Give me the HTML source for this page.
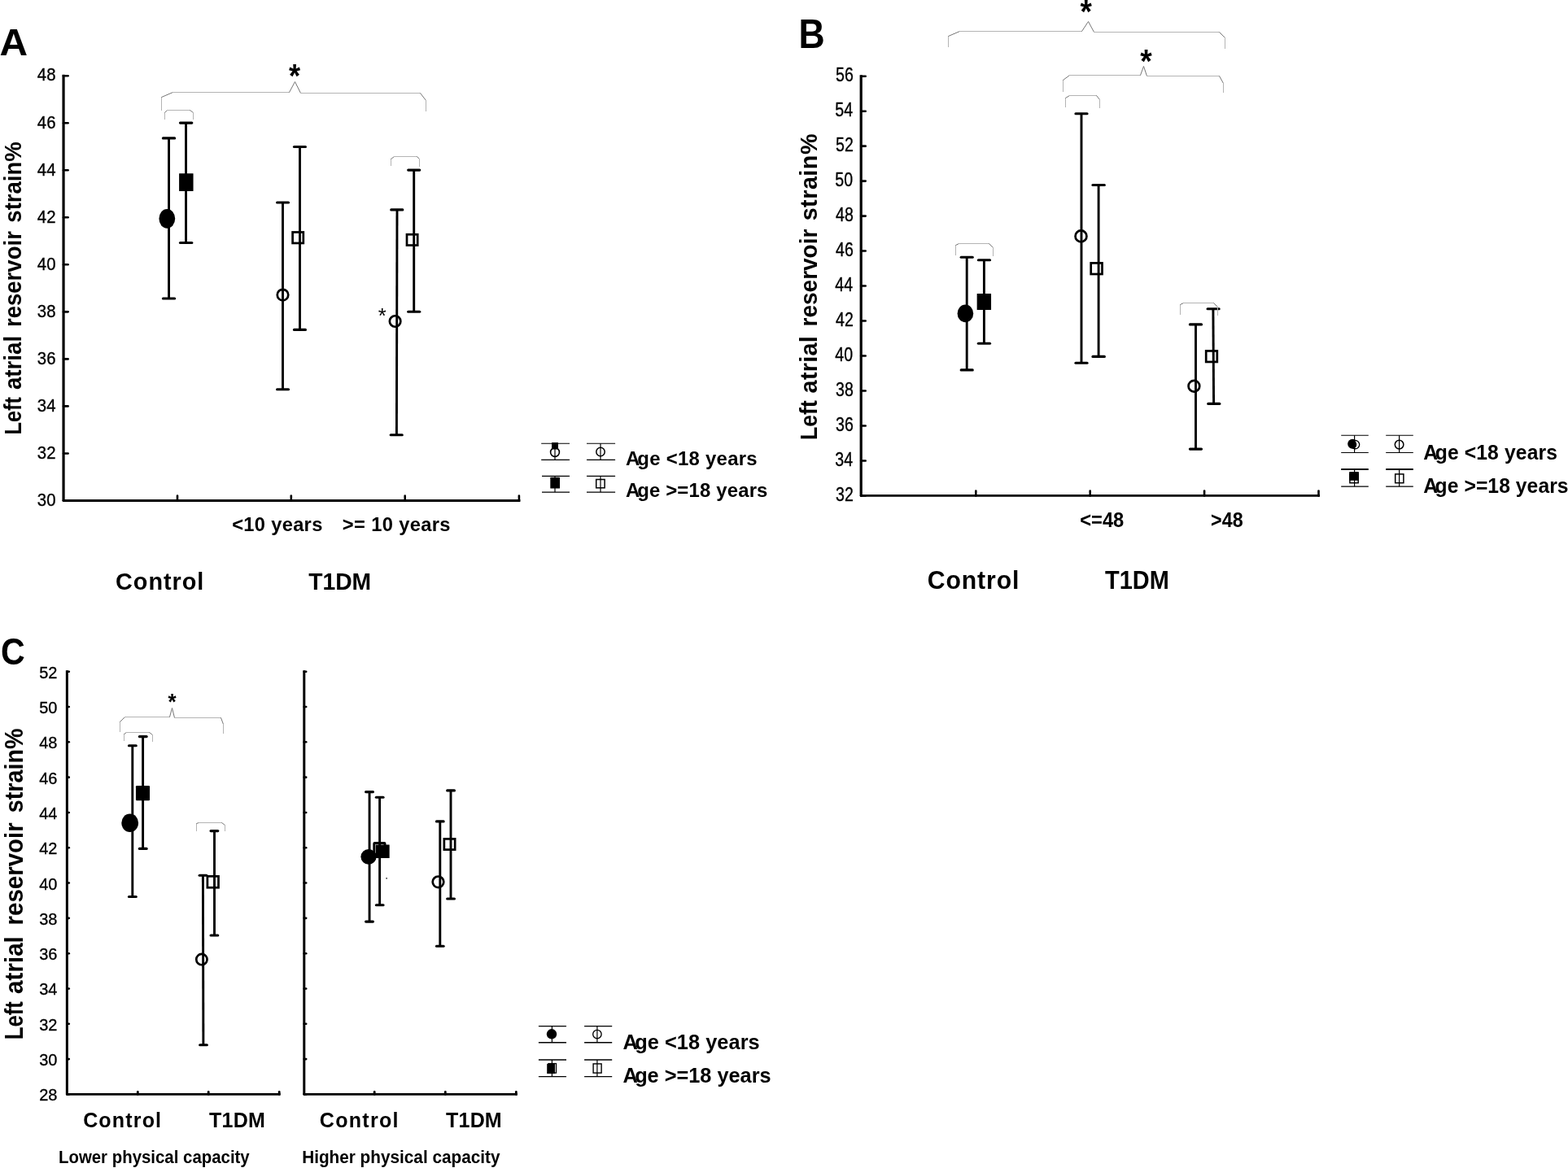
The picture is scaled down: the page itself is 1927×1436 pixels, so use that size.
<!DOCTYPE html>
<html lang="en">
<head>
<meta charset="utf-8">
<title>Left atrial reservoir strain figure</title>
<style>
html,body{margin:0;padding:0;background:#fff;}
body{width:1927px;height:1436px;overflow:hidden;}
svg{display:block;}
svg text{font-family:'Liberation Sans', Arial, sans-serif;fill:#000;}
</style>
</head>
<body>
<svg width="1927" height="1436" viewBox="0 0 1927 1436">
<rect width="1927" height="1436" fill="#fff"/>
<!-- Panel A -->
<line x1="78.05" y1="91.7" x2="78.05" y2="615.5" stroke="#000" stroke-width="3.2" stroke-linecap="butt"/>
<circle cx="78.05" cy="615.5" r="1.55" fill="#000"/>
<line x1="78.05" y1="615.5" x2="639.4" y2="615.5" stroke="#000" stroke-width="2.9" stroke-linecap="butt"/>
<line x1="78.05" y1="93.2" x2="83.6" y2="93.2" stroke="#000" stroke-width="2.6" stroke-linecap="round"/>
<line x1="78.05" y1="151.23" x2="83.6" y2="151.23" stroke="#000" stroke-width="2.6" stroke-linecap="round"/>
<line x1="78.05" y1="209.26" x2="83.6" y2="209.26" stroke="#000" stroke-width="2.6" stroke-linecap="round"/>
<line x1="78.05" y1="267.29" x2="83.6" y2="267.29" stroke="#000" stroke-width="2.6" stroke-linecap="round"/>
<line x1="78.05" y1="325.32" x2="83.6" y2="325.32" stroke="#000" stroke-width="2.6" stroke-linecap="round"/>
<line x1="78.05" y1="383.35" x2="83.6" y2="383.35" stroke="#000" stroke-width="2.6" stroke-linecap="round"/>
<line x1="78.05" y1="441.38" x2="83.6" y2="441.38" stroke="#000" stroke-width="2.6" stroke-linecap="round"/>
<line x1="78.05" y1="499.41" x2="83.6" y2="499.41" stroke="#000" stroke-width="2.6" stroke-linecap="round"/>
<line x1="78.05" y1="557.44" x2="83.6" y2="557.44" stroke="#000" stroke-width="2.6" stroke-linecap="round"/>
<line x1="78.05" y1="615.47" x2="83.6" y2="615.47" stroke="#000" stroke-width="2.6" stroke-linecap="round"/>
<line x1="218" y1="609.6" x2="218" y2="615.5" stroke="#000" stroke-width="2.6" stroke-linecap="round"/>
<line x1="357.8" y1="609.6" x2="357.8" y2="615.5" stroke="#000" stroke-width="2.6" stroke-linecap="round"/>
<line x1="497.7" y1="609.6" x2="497.7" y2="615.5" stroke="#000" stroke-width="2.6" stroke-linecap="round"/>
<line x1="637.9" y1="609.6" x2="637.9" y2="615.5" stroke="#000" stroke-width="2.6" stroke-linecap="round"/>
<line x1="207.55" y1="169.9" x2="207.55" y2="367" stroke="#000" stroke-width="2.9" stroke-linecap="butt"/>
<line x1="200.35" y1="169.9" x2="214.65" y2="169.9" stroke="#000" stroke-width="3.1" stroke-linecap="round"/>
<line x1="200.35" y1="367" x2="214.65" y2="367" stroke="#000" stroke-width="3.1" stroke-linecap="round"/>
<line x1="228.55" y1="151.1" x2="228.55" y2="298.5" stroke="#000" stroke-width="2.9" stroke-linecap="butt"/>
<line x1="221.45" y1="151.1" x2="235.85" y2="151.1" stroke="#000" stroke-width="3.1" stroke-linecap="round"/>
<line x1="221.45" y1="298.5" x2="235.85" y2="298.5" stroke="#000" stroke-width="3.1" stroke-linecap="round"/>
<line x1="347.5" y1="249" x2="347.5" y2="478.8" stroke="#000" stroke-width="2.9" stroke-linecap="butt"/>
<line x1="340.55" y1="249" x2="354.55" y2="249" stroke="#000" stroke-width="3.1" stroke-linecap="round"/>
<line x1="340.55" y1="478.8" x2="354.55" y2="478.8" stroke="#000" stroke-width="3.1" stroke-linecap="round"/>
<line x1="368.5" y1="180.5" x2="368.5" y2="405.4" stroke="#000" stroke-width="2.9" stroke-linecap="butt"/>
<line x1="361.45" y1="180.5" x2="375.45" y2="180.5" stroke="#000" stroke-width="3.1" stroke-linecap="round"/>
<line x1="361.45" y1="405.4" x2="375.45" y2="405.4" stroke="#000" stroke-width="3.1" stroke-linecap="round"/>
<line x1="488" y1="257.9" x2="487.4" y2="534.8" stroke="#000" stroke-width="2.9" stroke-linecap="butt"/>
<line x1="480.75" y1="257.9" x2="494.85" y2="257.9" stroke="#000" stroke-width="3.1" stroke-linecap="round"/>
<line x1="480.15" y1="534.8" x2="494.25" y2="534.8" stroke="#000" stroke-width="3.1" stroke-linecap="round"/>
<line x1="508.7" y1="209.1" x2="508.7" y2="383.3" stroke="#000" stroke-width="2.9" stroke-linecap="butt"/>
<line x1="501.65" y1="209.1" x2="515.75" y2="209.1" stroke="#000" stroke-width="3.1" stroke-linecap="round"/>
<line x1="501.65" y1="383.3" x2="515.75" y2="383.3" stroke="#000" stroke-width="3.1" stroke-linecap="round"/>
<ellipse cx="205.3" cy="268.85" rx="9.9" ry="11.8" fill="#000"/>
<rect x="220.1" y="213.2" width="17.45" height="21.7" rx="0.3" fill="#000"/>
<circle cx="347.5" cy="362.6" r="6.75" fill="none" stroke="#000" stroke-width="2.7"/>
<rect x="359.6" y="285.45" width="13.2" height="13.5" fill="none" stroke="#000" stroke-width="2.7"/>
<circle cx="485.6" cy="395" r="6.75" fill="none" stroke="#000" stroke-width="2.7"/>
<rect x="500" y="288.25" width="13.2" height="13.3" fill="none" stroke="#000" stroke-width="2.7"/>
<line x1="198.5" y1="135.5" x2="198.5" y2="119.5" stroke="#b4b4b4" stroke-width="1" stroke-linecap="square"/>
<line x1="198.5" y1="119.5" x2="212.5" y2="113.5" stroke="#757575" stroke-width="1"/>
<line x1="212.5" y1="113.5" x2="355.5" y2="113.5" stroke="#b4b4b4" stroke-width="1" stroke-linecap="square"/>
<line x1="355.5" y1="113.5" x2="362.5" y2="100.5" stroke="#757575" stroke-width="1"/>
<line x1="362.5" y1="100.5" x2="369.5" y2="114.5" stroke="#757575" stroke-width="1"/>
<line x1="369.5" y1="114.5" x2="516.5" y2="114.5" stroke="#b4b4b4" stroke-width="1" stroke-linecap="square"/>
<line x1="516.5" y1="114.5" x2="523.5" y2="123.5" stroke="#757575" stroke-width="1"/>
<line x1="523.5" y1="123.5" x2="523.5" y2="136.5" stroke="#b4b4b4" stroke-width="1" stroke-linecap="square"/>
<line x1="202.5" y1="146.5" x2="202.5" y2="138.5" stroke="#b4b4b4" stroke-width="1" stroke-linecap="square"/>
<line x1="202.5" y1="138.5" x2="205.5" y2="135.5" stroke="#757575" stroke-width="1"/>
<line x1="205.5" y1="135.5" x2="233.5" y2="135.5" stroke="#b4b4b4" stroke-width="1" stroke-linecap="square"/>
<line x1="233.5" y1="135.5" x2="237.5" y2="138.5" stroke="#757575" stroke-width="1"/>
<line x1="237.5" y1="138.5" x2="237.5" y2="146.5" stroke="#b4b4b4" stroke-width="1" stroke-linecap="square"/>
<line x1="480.5" y1="203.5" x2="480.5" y2="195.5" stroke="#b4b4b4" stroke-width="1" stroke-linecap="square"/>
<line x1="480.5" y1="195.5" x2="484.5" y2="192.5" stroke="#757575" stroke-width="1"/>
<line x1="484.5" y1="192.5" x2="512.5" y2="192.5" stroke="#b4b4b4" stroke-width="1" stroke-linecap="square"/>
<line x1="512.5" y1="192.5" x2="515.5" y2="195.5" stroke="#757575" stroke-width="1"/>
<line x1="515.5" y1="195.5" x2="515.5" y2="204.5" stroke="#b4b4b4" stroke-width="1" stroke-linecap="square"/>
<!-- Legend A -->
<line x1="665.2" y1="545.3" x2="700" y2="545.3" stroke="#000" stroke-width="1.1" stroke-linecap="butt"/>
<line x1="665.2" y1="565.4" x2="700" y2="565.4" stroke="#000" stroke-width="1.1" stroke-linecap="butt"/>
<line x1="721" y1="545.3" x2="756.1" y2="545.3" stroke="#000" stroke-width="1.1" stroke-linecap="butt"/>
<line x1="721" y1="565.4" x2="756.1" y2="565.4" stroke="#000" stroke-width="1.1" stroke-linecap="butt"/>
<line x1="682" y1="545.3" x2="682" y2="565.4" stroke="#000" stroke-width="1.2" stroke-linecap="butt"/>
<line x1="738" y1="545.3" x2="738" y2="565.4" stroke="#000" stroke-width="1.2" stroke-linecap="butt"/>
<rect x="678" y="544" width="8" height="8.5" rx="0.5" fill="#000"/>
<circle cx="682" cy="556" r="5.4" fill="none" stroke="#000" stroke-width="1.6"/>
<circle cx="738" cy="555.5" r="5.2" fill="none" stroke="#000" stroke-width="1.5"/>
<line x1="666" y1="585.4" x2="700" y2="585.4" stroke="#000" stroke-width="1.1" stroke-linecap="butt"/>
<line x1="666" y1="605.1" x2="700" y2="605.1" stroke="#000" stroke-width="1.1" stroke-linecap="butt"/>
<line x1="721" y1="585.4" x2="756.1" y2="585.4" stroke="#000" stroke-width="1.1" stroke-linecap="butt"/>
<line x1="721" y1="605.1" x2="756.1" y2="605.1" stroke="#000" stroke-width="1.1" stroke-linecap="butt"/>
<line x1="682" y1="585.4" x2="682" y2="605.1" stroke="#000" stroke-width="1.2" stroke-linecap="butt"/>
<line x1="738" y1="585.4" x2="738" y2="605.1" stroke="#000" stroke-width="1.2" stroke-linecap="butt"/>
<rect x="676.3" y="586.8" width="11.7" height="13.7" rx="0.5" fill="#000"/>
<rect x="732.7" y="589.5" width="10.4" height="10.3" fill="none" stroke="#000" stroke-width="1.5"/>
<!-- Panel B -->
<line x1="1058.2" y1="92.2" x2="1058.2" y2="609.4" stroke="#000" stroke-width="3.2" stroke-linecap="butt"/>
<circle cx="1058.2" cy="609.4" r="1.5" fill="#000"/>
<line x1="1058.2" y1="609.4" x2="1622" y2="609.4" stroke="#000" stroke-width="2.8" stroke-linecap="butt"/>
<line x1="1058.2" y1="93.7" x2="1063.7" y2="93.7" stroke="#000" stroke-width="2.6" stroke-linecap="round"/>
<line x1="1058.2" y1="136.68" x2="1063.7" y2="136.68" stroke="#000" stroke-width="2.6" stroke-linecap="round"/>
<line x1="1058.2" y1="179.65" x2="1063.7" y2="179.65" stroke="#000" stroke-width="2.6" stroke-linecap="round"/>
<line x1="1058.2" y1="222.62" x2="1063.7" y2="222.62" stroke="#000" stroke-width="2.6" stroke-linecap="round"/>
<line x1="1058.2" y1="265.6" x2="1063.7" y2="265.6" stroke="#000" stroke-width="2.6" stroke-linecap="round"/>
<line x1="1058.2" y1="308.57" x2="1063.7" y2="308.57" stroke="#000" stroke-width="2.6" stroke-linecap="round"/>
<line x1="1058.2" y1="351.55" x2="1063.7" y2="351.55" stroke="#000" stroke-width="2.6" stroke-linecap="round"/>
<line x1="1058.2" y1="394.52" x2="1063.7" y2="394.52" stroke="#000" stroke-width="2.6" stroke-linecap="round"/>
<line x1="1058.2" y1="437.5" x2="1063.7" y2="437.5" stroke="#000" stroke-width="2.6" stroke-linecap="round"/>
<line x1="1058.2" y1="480.48" x2="1063.7" y2="480.48" stroke="#000" stroke-width="2.6" stroke-linecap="round"/>
<line x1="1058.2" y1="523.45" x2="1063.7" y2="523.45" stroke="#000" stroke-width="2.6" stroke-linecap="round"/>
<line x1="1058.2" y1="566.43" x2="1063.7" y2="566.43" stroke="#000" stroke-width="2.6" stroke-linecap="round"/>
<line x1="1058.2" y1="609.4" x2="1063.7" y2="609.4" stroke="#000" stroke-width="2.6" stroke-linecap="round"/>
<line x1="1199.3" y1="603.5" x2="1199.3" y2="609.4" stroke="#000" stroke-width="2.6" stroke-linecap="round"/>
<line x1="1339.7" y1="603.5" x2="1339.7" y2="609.4" stroke="#000" stroke-width="2.6" stroke-linecap="round"/>
<line x1="1480.1" y1="603.5" x2="1480.1" y2="609.4" stroke="#000" stroke-width="2.6" stroke-linecap="round"/>
<line x1="1620.5" y1="603.5" x2="1620.5" y2="609.4" stroke="#000" stroke-width="2.6" stroke-linecap="round"/>
<line x1="1188.2" y1="316.2" x2="1188.2" y2="454.9" stroke="#000" stroke-width="2.9" stroke-linecap="butt"/>
<line x1="1181.15" y1="316.2" x2="1195.25" y2="316.2" stroke="#000" stroke-width="3.1" stroke-linecap="round"/>
<line x1="1181.15" y1="454.9" x2="1195.25" y2="454.9" stroke="#000" stroke-width="3.1" stroke-linecap="round"/>
<line x1="1209.4" y1="319.8" x2="1209.4" y2="422.2" stroke="#000" stroke-width="2.9" stroke-linecap="butt"/>
<line x1="1202.35" y1="319.8" x2="1216.55" y2="319.8" stroke="#000" stroke-width="3.1" stroke-linecap="round"/>
<line x1="1202.35" y1="422.2" x2="1216.55" y2="422.2" stroke="#000" stroke-width="3.1" stroke-linecap="round"/>
<line x1="1329" y1="139.7" x2="1329" y2="446.2" stroke="#000" stroke-width="2.9" stroke-linecap="butt"/>
<line x1="1321.95" y1="139.7" x2="1336.05" y2="139.7" stroke="#000" stroke-width="3.1" stroke-linecap="round"/>
<line x1="1321.95" y1="446.2" x2="1336.05" y2="446.2" stroke="#000" stroke-width="3.1" stroke-linecap="round"/>
<line x1="1350.1" y1="227.5" x2="1350.1" y2="438.4" stroke="#000" stroke-width="2.9" stroke-linecap="butt"/>
<line x1="1342.95" y1="227.5" x2="1357.35" y2="227.5" stroke="#000" stroke-width="3.1" stroke-linecap="round"/>
<line x1="1342.95" y1="438.4" x2="1357.35" y2="438.4" stroke="#000" stroke-width="3.1" stroke-linecap="round"/>
<line x1="1469.5" y1="398.9" x2="1469.5" y2="552.1" stroke="#000" stroke-width="2.9" stroke-linecap="butt"/>
<line x1="1462.35" y1="398.9" x2="1476.55" y2="398.9" stroke="#000" stroke-width="3.1" stroke-linecap="round"/>
<line x1="1462.35" y1="552.1" x2="1476.55" y2="552.1" stroke="#000" stroke-width="3.1" stroke-linecap="round"/>
<line x1="1490.9" y1="379.7" x2="1491.6" y2="496.4" stroke="#000" stroke-width="2.9" stroke-linecap="butt"/>
<line x1="1484.05" y1="379.7" x2="1498.15" y2="379.7" stroke="#000" stroke-width="3.1" stroke-linecap="round"/>
<line x1="1484.75" y1="496.4" x2="1498.85" y2="496.4" stroke="#000" stroke-width="3.1" stroke-linecap="round"/>
<ellipse cx="1186.4" cy="385.4" rx="9.8" ry="10.8" fill="#000"/>
<rect x="1200.65" y="361.05" width="17.4" height="19.9" rx="0.3" fill="#000"/>
<circle cx="1328.5" cy="290.4" r="6.95" fill="none" stroke="#000" stroke-width="2.7"/>
<rect x="1340.7" y="323.4" width="13.8" height="13.6" fill="none" stroke="#000" stroke-width="2.7"/>
<circle cx="1467.4" cy="474.7" r="6.85" fill="none" stroke="#000" stroke-width="2.7"/>
<rect x="1482.2" y="431.45" width="13.6" height="13.5" fill="none" stroke="#000" stroke-width="2.7"/>
<line x1="1165.5" y1="57.5" x2="1165.5" y2="44.5" stroke="#b4b4b4" stroke-width="1" stroke-linecap="square"/>
<line x1="1165.5" y1="44.5" x2="1179.5" y2="38.5" stroke="#757575" stroke-width="1"/>
<line x1="1179.5" y1="38.5" x2="1329.5" y2="38.5" stroke="#b4b4b4" stroke-width="1" stroke-linecap="square"/>
<line x1="1329.5" y1="38.5" x2="1337.5" y2="26.5" stroke="#757575" stroke-width="1"/>
<line x1="1337.5" y1="26.5" x2="1344.5" y2="39.5" stroke="#757575" stroke-width="1"/>
<line x1="1344.5" y1="39.5" x2="1498.5" y2="39.5" stroke="#b4b4b4" stroke-width="1" stroke-linecap="square"/>
<line x1="1498.5" y1="39.5" x2="1505.5" y2="46.5" stroke="#757575" stroke-width="1"/>
<line x1="1505.5" y1="46.5" x2="1505.5" y2="59.5" stroke="#b4b4b4" stroke-width="1" stroke-linecap="square"/>
<line x1="1306.5" y1="112.5" x2="1306.5" y2="98.5" stroke="#b4b4b4" stroke-width="1" stroke-linecap="square"/>
<line x1="1306.5" y1="98.5" x2="1314.5" y2="92.5" stroke="#757575" stroke-width="1"/>
<line x1="1314.5" y1="92.5" x2="1401.5" y2="92.5" stroke="#b4b4b4" stroke-width="1" stroke-linecap="square"/>
<line x1="1401.5" y1="92.5" x2="1405.5" y2="81.5" stroke="#757575" stroke-width="1"/>
<line x1="1405.5" y1="81.5" x2="1409.5" y2="93.5" stroke="#757575" stroke-width="1"/>
<line x1="1409.5" y1="93.5" x2="1498.5" y2="93.5" stroke="#b4b4b4" stroke-width="1" stroke-linecap="square"/>
<line x1="1498.5" y1="93.5" x2="1503.5" y2="102.5" stroke="#757575" stroke-width="1"/>
<line x1="1503.5" y1="102.5" x2="1503.5" y2="113.5" stroke="#b4b4b4" stroke-width="1" stroke-linecap="square"/>
<line x1="1309.5" y1="131.5" x2="1309.5" y2="120.5" stroke="#b4b4b4" stroke-width="1" stroke-linecap="square"/>
<line x1="1309.5" y1="120.5" x2="1314.5" y2="117.5" stroke="#757575" stroke-width="1"/>
<line x1="1314.5" y1="117.5" x2="1347.5" y2="117.5" stroke="#b4b4b4" stroke-width="1" stroke-linecap="square"/>
<line x1="1347.5" y1="117.5" x2="1351.5" y2="122.5" stroke="#757575" stroke-width="1"/>
<line x1="1351.5" y1="122.5" x2="1351.5" y2="132.5" stroke="#b4b4b4" stroke-width="1" stroke-linecap="square"/>
<line x1="1174.5" y1="313.5" x2="1174.5" y2="301.5" stroke="#b4b4b4" stroke-width="1" stroke-linecap="square"/>
<line x1="1174.5" y1="301.5" x2="1178.5" y2="299.5" stroke="#757575" stroke-width="1"/>
<line x1="1178.5" y1="299.5" x2="1215.5" y2="299.5" stroke="#b4b4b4" stroke-width="1" stroke-linecap="square"/>
<line x1="1215.5" y1="299.5" x2="1220.5" y2="304.5" stroke="#757575" stroke-width="1"/>
<line x1="1220.5" y1="304.5" x2="1220.5" y2="314.5" stroke="#b4b4b4" stroke-width="1" stroke-linecap="square"/>
<line x1="1450.5" y1="386.5" x2="1450.5" y2="374.5" stroke="#b4b4b4" stroke-width="1" stroke-linecap="square"/>
<line x1="1450.5" y1="374.5" x2="1454.5" y2="372.5" stroke="#757575" stroke-width="1"/>
<line x1="1454.5" y1="372.5" x2="1491.5" y2="372.5" stroke="#b4b4b4" stroke-width="1" stroke-linecap="square"/>
<line x1="1491.5" y1="372.5" x2="1496.5" y2="377.5" stroke="#757575" stroke-width="1"/>
<line x1="1496.5" y1="377.5" x2="1496.5" y2="387.5" stroke="#b4b4b4" stroke-width="1" stroke-linecap="square"/>
<!-- Legend B -->
<line x1="1648.2" y1="535.2" x2="1681.8" y2="535.2" stroke="#000" stroke-width="1.1" stroke-linecap="butt"/>
<line x1="1648.2" y1="556.5" x2="1681.8" y2="556.5" stroke="#000" stroke-width="1.1" stroke-linecap="butt"/>
<line x1="1703.2" y1="535.2" x2="1736.8" y2="535.2" stroke="#000" stroke-width="1.1" stroke-linecap="butt"/>
<line x1="1703.2" y1="556.5" x2="1736.8" y2="556.5" stroke="#000" stroke-width="1.1" stroke-linecap="butt"/>
<line x1="1664.6" y1="535.2" x2="1664.6" y2="556.5" stroke="#000" stroke-width="1.2" stroke-linecap="butt"/>
<line x1="1719.6" y1="535.2" x2="1719.6" y2="556.5" stroke="#000" stroke-width="1.2" stroke-linecap="butt"/>
<circle cx="1662.2" cy="545.8" r="6" fill="#000"/>
<circle cx="1665.4" cy="546.6" r="5.2" fill="none" stroke="#000" stroke-width="1.5"/>
<path d="M1665.4,542.2 a4.4,4.4 0 0 1 0,8.8 a6,6 0 0 0 0,-8.8z" fill="#fff"/>
<circle cx="1719.6" cy="546.6" r="5.3" fill="none" stroke="#000" stroke-width="1.5"/>
<line x1="1648.2" y1="576.9" x2="1681.8" y2="576.9" stroke="#000" stroke-width="2.0" stroke-linecap="butt"/>
<line x1="1648.2" y1="598.1" x2="1681.8" y2="598.1" stroke="#000" stroke-width="1.1" stroke-linecap="butt"/>
<line x1="1703.2" y1="576.9" x2="1736.8" y2="576.9" stroke="#000" stroke-width="2.0" stroke-linecap="butt"/>
<line x1="1703.2" y1="598.1" x2="1736.8" y2="598.1" stroke="#000" stroke-width="1.1" stroke-linecap="butt"/>
<line x1="1664.6" y1="576.9" x2="1664.6" y2="598.1" stroke="#000" stroke-width="1.2" stroke-linecap="butt"/>
<line x1="1719.6" y1="576.9" x2="1719.6" y2="598.1" stroke="#000" stroke-width="1.2" stroke-linecap="butt"/>
<rect x="1658.2" y="580.1" width="11.7" height="10.6" rx="0.5" fill="#000"/>
<rect x="1658.9" y="582.5" width="10.3" height="11.2" fill="none" stroke="#000" stroke-width="1.5"/>
<rect x="1714.7" y="582.9" width="10.2" height="10.8" fill="none" stroke="#000" stroke-width="1.5"/>
<!-- Panel C -->
<line x1="82.35" y1="824.3" x2="82.35" y2="1345.4" stroke="#000" stroke-width="3.0" stroke-linecap="butt"/>
<circle cx="82.35" cy="1345.4" r="1.4" fill="#000"/>
<line x1="82.35" y1="1345.4" x2="344.6" y2="1345.4" stroke="#000" stroke-width="2.6" stroke-linecap="butt"/>
<line x1="373.8" y1="824.3" x2="373.8" y2="1345.4" stroke="#000" stroke-width="3.0" stroke-linecap="butt"/>
<circle cx="373.8" cy="1345.4" r="1.4" fill="#000"/>
<line x1="373.8" y1="1345.4" x2="635.8" y2="1345.4" stroke="#000" stroke-width="2.6" stroke-linecap="butt"/>
<line x1="82.35" y1="825.7" x2="84.8" y2="825.7" stroke="#000" stroke-width="2.6" stroke-linecap="round"/>
<line x1="373.8" y1="825.7" x2="376.2" y2="825.7" stroke="#000" stroke-width="2.6" stroke-linecap="round"/>
<line x1="82.35" y1="869.01" x2="84.8" y2="869.01" stroke="#000" stroke-width="2.6" stroke-linecap="round"/>
<line x1="373.8" y1="869.01" x2="376.2" y2="869.01" stroke="#000" stroke-width="2.6" stroke-linecap="round"/>
<line x1="82.35" y1="912.32" x2="84.8" y2="912.32" stroke="#000" stroke-width="2.6" stroke-linecap="round"/>
<line x1="373.8" y1="912.32" x2="376.2" y2="912.32" stroke="#000" stroke-width="2.6" stroke-linecap="round"/>
<line x1="82.35" y1="955.63" x2="84.8" y2="955.63" stroke="#000" stroke-width="2.6" stroke-linecap="round"/>
<line x1="373.8" y1="955.63" x2="376.2" y2="955.63" stroke="#000" stroke-width="2.6" stroke-linecap="round"/>
<line x1="82.35" y1="998.94" x2="84.8" y2="998.94" stroke="#000" stroke-width="2.6" stroke-linecap="round"/>
<line x1="373.8" y1="998.94" x2="376.2" y2="998.94" stroke="#000" stroke-width="2.6" stroke-linecap="round"/>
<line x1="82.35" y1="1042.25" x2="84.8" y2="1042.25" stroke="#000" stroke-width="2.6" stroke-linecap="round"/>
<line x1="373.8" y1="1042.25" x2="376.2" y2="1042.25" stroke="#000" stroke-width="2.6" stroke-linecap="round"/>
<line x1="82.35" y1="1085.56" x2="84.8" y2="1085.56" stroke="#000" stroke-width="2.6" stroke-linecap="round"/>
<line x1="373.8" y1="1085.56" x2="376.2" y2="1085.56" stroke="#000" stroke-width="2.6" stroke-linecap="round"/>
<line x1="82.35" y1="1128.87" x2="84.8" y2="1128.87" stroke="#000" stroke-width="2.6" stroke-linecap="round"/>
<line x1="373.8" y1="1128.87" x2="376.2" y2="1128.87" stroke="#000" stroke-width="2.6" stroke-linecap="round"/>
<line x1="82.35" y1="1172.18" x2="84.8" y2="1172.18" stroke="#000" stroke-width="2.6" stroke-linecap="round"/>
<line x1="373.8" y1="1172.18" x2="376.2" y2="1172.18" stroke="#000" stroke-width="2.6" stroke-linecap="round"/>
<line x1="82.35" y1="1215.49" x2="84.8" y2="1215.49" stroke="#000" stroke-width="2.6" stroke-linecap="round"/>
<line x1="373.8" y1="1215.49" x2="376.2" y2="1215.49" stroke="#000" stroke-width="2.6" stroke-linecap="round"/>
<line x1="82.35" y1="1258.8" x2="84.8" y2="1258.8" stroke="#000" stroke-width="2.6" stroke-linecap="round"/>
<line x1="373.8" y1="1258.8" x2="376.2" y2="1258.8" stroke="#000" stroke-width="2.6" stroke-linecap="round"/>
<line x1="82.35" y1="1302.11" x2="84.8" y2="1302.11" stroke="#000" stroke-width="2.6" stroke-linecap="round"/>
<line x1="373.8" y1="1302.11" x2="376.2" y2="1302.11" stroke="#000" stroke-width="2.6" stroke-linecap="round"/>
<line x1="82.35" y1="1345.42" x2="84.8" y2="1345.42" stroke="#000" stroke-width="2.6" stroke-linecap="round"/>
<line x1="373.8" y1="1345.42" x2="376.2" y2="1345.42" stroke="#000" stroke-width="2.6" stroke-linecap="round"/>
<line x1="169.3" y1="1342.4" x2="169.3" y2="1345.4" stroke="#000" stroke-width="2.8" stroke-linecap="round"/>
<line x1="256.2" y1="1342.4" x2="256.2" y2="1345.4" stroke="#000" stroke-width="2.8" stroke-linecap="round"/>
<line x1="343.2" y1="1342.4" x2="343.2" y2="1345.4" stroke="#000" stroke-width="2.8" stroke-linecap="round"/>
<line x1="460.2" y1="1342.4" x2="460.2" y2="1345.4" stroke="#000" stroke-width="2.8" stroke-linecap="round"/>
<line x1="547.3" y1="1342.4" x2="547.3" y2="1345.4" stroke="#000" stroke-width="2.8" stroke-linecap="round"/>
<line x1="634.3" y1="1342.4" x2="634.3" y2="1345.4" stroke="#000" stroke-width="2.8" stroke-linecap="round"/>
<line x1="162.8" y1="916.8" x2="162.8" y2="1102.5" stroke="#000" stroke-width="2.9" stroke-linecap="butt"/>
<line x1="158.45" y1="916.8" x2="167.25" y2="916.8" stroke="#000" stroke-width="3.1" stroke-linecap="round"/>
<line x1="158.45" y1="1102.5" x2="167.25" y2="1102.5" stroke="#000" stroke-width="3.1" stroke-linecap="round"/>
<line x1="175.6" y1="905.6" x2="175.6" y2="1043.4" stroke="#000" stroke-width="2.9" stroke-linecap="butt"/>
<line x1="171.35" y1="905.6" x2="180.15" y2="905.6" stroke="#000" stroke-width="3.1" stroke-linecap="round"/>
<line x1="171.35" y1="1043.4" x2="180.15" y2="1043.4" stroke="#000" stroke-width="3.1" stroke-linecap="round"/>
<line x1="249.4" y1="1076.3" x2="249.9" y2="1284.8" stroke="#000" stroke-width="2.9" stroke-linecap="butt"/>
<line x1="245.15" y1="1076.3" x2="253.85" y2="1076.3" stroke="#000" stroke-width="3.1" stroke-linecap="round"/>
<line x1="245.65" y1="1284.8" x2="254.35" y2="1284.8" stroke="#000" stroke-width="3.1" stroke-linecap="round"/>
<line x1="263.5" y1="1021.6" x2="263.5" y2="1150" stroke="#000" stroke-width="2.9" stroke-linecap="butt"/>
<line x1="259.05" y1="1021.6" x2="267.75" y2="1021.6" stroke="#000" stroke-width="3.1" stroke-linecap="round"/>
<line x1="259.05" y1="1150" x2="267.75" y2="1150" stroke="#000" stroke-width="3.1" stroke-linecap="round"/>
<line x1="454.05" y1="973.6" x2="454.05" y2="1133.1" stroke="#000" stroke-width="2.9" stroke-linecap="butt"/>
<line x1="449.55" y1="973.6" x2="458.45" y2="973.6" stroke="#000" stroke-width="3.1" stroke-linecap="round"/>
<line x1="449.55" y1="1133.1" x2="458.45" y2="1133.1" stroke="#000" stroke-width="3.1" stroke-linecap="round"/>
<line x1="466.6" y1="980.3" x2="466.6" y2="1112.7" stroke="#000" stroke-width="2.9" stroke-linecap="butt"/>
<line x1="462.35" y1="980.3" x2="471.05" y2="980.3" stroke="#000" stroke-width="3.1" stroke-linecap="round"/>
<line x1="462.35" y1="1112.7" x2="471.05" y2="1112.7" stroke="#000" stroke-width="3.1" stroke-linecap="round"/>
<line x1="540.8" y1="1009.9" x2="540.8" y2="1163.3" stroke="#000" stroke-width="2.9" stroke-linecap="butt"/>
<line x1="536.45" y1="1009.9" x2="545.15" y2="1009.9" stroke="#000" stroke-width="3.1" stroke-linecap="round"/>
<line x1="536.45" y1="1163.3" x2="545.15" y2="1163.3" stroke="#000" stroke-width="3.1" stroke-linecap="round"/>
<line x1="554" y1="971.9" x2="554" y2="1105" stroke="#000" stroke-width="2.9" stroke-linecap="butt"/>
<line x1="549.65" y1="971.9" x2="558.45" y2="971.9" stroke="#000" stroke-width="3.1" stroke-linecap="round"/>
<line x1="549.65" y1="1105" x2="558.45" y2="1105" stroke="#000" stroke-width="3.1" stroke-linecap="round"/>
<ellipse cx="159.7" cy="1011.7" rx="10.4" ry="11.3" fill="#000"/>
<rect x="166.95" y="965.95" width="17.1" height="18.3" rx="1.2" fill="#000"/>
<circle cx="247.9" cy="1179.6" r="6.65" fill="none" stroke="#000" stroke-width="2.7"/>
<rect x="254.9" y="1077.35" width="13.6" height="13.9" fill="none" stroke="#000" stroke-width="2.7"/>
<ellipse cx="453" cy="1053.35" rx="9.6" ry="9.45" fill="#000"/>
<rect x="459.8" y="1036.6" width="13.2" height="13.6" rx="0.6" fill="none" stroke="#000" stroke-width="3"/>
<rect x="461.75" y="1038.45" width="16.9" height="16.6" rx="0.4" fill="#000"/>
<circle cx="538.5" cy="1084.3" r="6.8" fill="none" stroke="#000" stroke-width="2.7"/>
<rect x="545.85" y="1031.4" width="13.3" height="13.2" fill="none" stroke="#000" stroke-width="2.7"/>
<circle cx="475.1" cy="1079.8" r="0.9" fill="#222"/>
<line x1="147.5" y1="899.5" x2="147.5" y2="887.5" stroke="#b4b4b4" stroke-width="1" stroke-linecap="square"/>
<line x1="147.5" y1="887.5" x2="153.5" y2="881.5" stroke="#757575" stroke-width="1"/>
<line x1="153.5" y1="881.5" x2="208.5" y2="881.5" stroke="#b4b4b4" stroke-width="1" stroke-linecap="square"/>
<line x1="208.5" y1="881.5" x2="211.5" y2="870.5" stroke="#757575" stroke-width="1"/>
<line x1="211.5" y1="870.5" x2="214.5" y2="882.5" stroke="#757575" stroke-width="1"/>
<line x1="214.5" y1="882.5" x2="271.5" y2="882.5" stroke="#b4b4b4" stroke-width="1" stroke-linecap="square"/>
<line x1="271.5" y1="882.5" x2="274.5" y2="890.5" stroke="#757575" stroke-width="1"/>
<line x1="274.5" y1="890.5" x2="274.5" y2="901.5" stroke="#b4b4b4" stroke-width="1" stroke-linecap="square"/>
<line x1="152.5" y1="910.5" x2="152.5" y2="902.5" stroke="#b4b4b4" stroke-width="1" stroke-linecap="square"/>
<line x1="152.5" y1="902.5" x2="155.5" y2="900.5" stroke="#757575" stroke-width="1"/>
<line x1="155.5" y1="900.5" x2="183.5" y2="900.5" stroke="#b4b4b4" stroke-width="1" stroke-linecap="square"/>
<line x1="183.5" y1="900.5" x2="187.5" y2="903.5" stroke="#757575" stroke-width="1"/>
<line x1="187.5" y1="903.5" x2="187.5" y2="911.5" stroke="#b4b4b4" stroke-width="1" stroke-linecap="square"/>
<line x1="241.5" y1="1021.5" x2="241.5" y2="1012.5" stroke="#b4b4b4" stroke-width="1" stroke-linecap="square"/>
<line x1="241.5" y1="1012.5" x2="244.5" y2="1011.5" stroke="#757575" stroke-width="1"/>
<line x1="244.5" y1="1011.5" x2="272.5" y2="1011.5" stroke="#b4b4b4" stroke-width="1" stroke-linecap="square"/>
<line x1="272.5" y1="1011.5" x2="276.5" y2="1014.5" stroke="#757575" stroke-width="1"/>
<line x1="276.5" y1="1014.5" x2="276.5" y2="1021.5" stroke="#b4b4b4" stroke-width="1" stroke-linecap="square"/>
<!-- Legend C -->
<line x1="661.9" y1="1261.6" x2="696" y2="1261.6" stroke="#000" stroke-width="1.1" stroke-linecap="butt"/>
<line x1="661.9" y1="1281.8" x2="696" y2="1281.8" stroke="#000" stroke-width="1.6" stroke-linecap="butt"/>
<line x1="718.1" y1="1261.6" x2="752.2" y2="1261.6" stroke="#000" stroke-width="1.1" stroke-linecap="butt"/>
<line x1="718.1" y1="1281.8" x2="752.2" y2="1281.8" stroke="#000" stroke-width="1.6" stroke-linecap="butt"/>
<line x1="678.4" y1="1261.6" x2="678.4" y2="1281.8" stroke="#000" stroke-width="1.2" stroke-linecap="butt"/>
<line x1="733.9" y1="1261.6" x2="733.9" y2="1281.8" stroke="#000" stroke-width="1.2" stroke-linecap="butt"/>
<circle cx="678" cy="1271.3" r="6.2" fill="#000"/>
<circle cx="733.9" cy="1271.5" r="5.2" fill="none" stroke="#000" stroke-width="1.35"/>
<line x1="661.9" y1="1303" x2="696" y2="1303" stroke="#000" stroke-width="1.6" stroke-linecap="butt"/>
<line x1="661.9" y1="1323.6" x2="696" y2="1323.6" stroke="#000" stroke-width="1.1" stroke-linecap="butt"/>
<line x1="718.1" y1="1303" x2="752.2" y2="1303" stroke="#000" stroke-width="1.6" stroke-linecap="butt"/>
<line x1="718.1" y1="1323.6" x2="752.2" y2="1323.6" stroke="#000" stroke-width="1.1" stroke-linecap="butt"/>
<line x1="678.4" y1="1303" x2="678.4" y2="1323.6" stroke="#000" stroke-width="1.2" stroke-linecap="butt"/>
<line x1="733.9" y1="1303" x2="733.9" y2="1323.6" stroke="#000" stroke-width="1.2" stroke-linecap="butt"/>
<rect x="672.2" y="1308" width="9.8" height="12" rx="0.3" fill="#000"/>
<rect x="673.9" y="1307.6" width="9.6" height="11.5" fill="none" stroke="#000" stroke-width="1.3"/>
<rect x="729.1" y="1307.9" width="10" height="11.2" fill="none" stroke="#000" stroke-width="1.4"/>
<!-- Text -->
<text transform="translate(-0.62,67.7) scale(1.0188,1)" font-size="47.0" font-weight="bold">A</text>
<text transform="translate(981.5,58.7) scale(0.9000,1)" font-size="49.5" font-weight="bold">B</text>
<text transform="translate(1.02,816.7) scale(0.8750,1)" font-size="47.0" font-weight="bold">C</text>
<text transform="translate(25.7,534.58) rotate(-90) scale(0.8794,1)" font-size="28.8" font-weight="bold">Left</text>
<text transform="translate(25.7,479.1) rotate(-90) scale(0.9637,1)" font-size="28.8" font-weight="bold">atrial</text>
<text transform="translate(25.7,402.06) rotate(-90) scale(0.9569,1)" font-size="28.8" font-weight="bold">reservoir</text>
<text transform="translate(25.7,273.65) rotate(-90) scale(0.9549,1)" font-size="28.8" font-weight="bold">strain%</text>
<text transform="translate(1004.3,540.88) rotate(-90) scale(0.8919,1)" font-size="29.8" font-weight="bold">Left</text>
<text transform="translate(1004.3,483.4) rotate(-90) scale(0.9670,1)" font-size="29.8" font-weight="bold" letter-spacing="0.283">atrial</text>
<text transform="translate(1004.3,401.44) rotate(-90) scale(0.9397,1)" font-size="29.8" font-weight="bold">reservoir</text>
<text transform="translate(1004.3,271.37) rotate(-90) scale(0.9670,1)" font-size="29.8" font-weight="bold" letter-spacing="0.493">strain%</text>
<text transform="translate(27.7,1278.18) rotate(-90) scale(0.8387,1)" font-size="30.6" font-weight="bold">Left</text>
<text transform="translate(27.7,1221.9) rotate(-90) scale(0.9670,1)" font-size="30.6" font-weight="bold" letter-spacing="0.008">atrial</text>
<text transform="translate(27.7,1137.43) rotate(-90) scale(0.9631,1)" font-size="30.6" font-weight="bold">reservoir</text>
<text transform="translate(27.7,999.24) rotate(-90) scale(0.9395,1)" font-size="30.6" font-weight="bold">strain%</text>
<text transform="translate(285.23,653.4) scale(0.9670,1)" font-size="24.5" font-weight="bold" letter-spacing="0.320">&lt;10 years</text>
<text transform="translate(420.83,653.4) scale(0.9670,1)" font-size="24.5" font-weight="bold" letter-spacing="0.379">&gt;= 10 years</text>
<text transform="translate(142.03,725.3) scale(0.9670,1)" font-size="29.8" font-weight="bold" letter-spacing="1.013">Control</text>
<text transform="translate(379.2,725.3) scale(0.9484,1)" font-size="29.8" font-weight="bold">T1DM</text>
<text transform="translate(1327.27,648.4) scale(0.9335,1)" font-size="25.4" font-weight="bold">&lt;=48</text>
<text transform="translate(1488.08,648.4) scale(0.9178,1)" font-size="25.4" font-weight="bold">&gt;48</text>
<text transform="translate(1139.73,724.4) scale(0.9670,1)" font-size="31.2" font-weight="bold" letter-spacing="0.943">Control</text>
<text transform="translate(1358.1,724.4) scale(0.9274,1)" font-size="31.2" font-weight="bold">T1DM</text>
<text transform="translate(102.13,1385.5) scale(0.9670,1)" font-size="25.9" font-weight="bold" letter-spacing="1.194">Control</text>
<text transform="translate(257.1,1385.5) scale(0.9670,1)" font-size="25.9" font-weight="bold" letter-spacing="0.194">T1DM</text>
<text transform="translate(392.83,1385.5) scale(0.9670,1)" font-size="25.9" font-weight="bold" letter-spacing="1.331">Control</text>
<text transform="translate(548.1,1385.5) scale(0.9670,1)" font-size="25.9" font-weight="bold" letter-spacing="0.159">T1DM</text>
<text transform="translate(71.97,1430) scale(0.9322,1)" font-size="21.9" font-weight="bold">Lower physical capacity</text>
<text transform="translate(371.15,1430) scale(0.9476,1)" font-size="21.9" font-weight="bold">Higher physical capacity</text>
<text transform="translate(769.1,572.4) scale(0.9670,1)" font-size="24.7" font-weight="bold" letter-spacing="0.310">A<tspan dx="-3.46">ge &lt;18 years</tspan></text>
<text transform="translate(769.1,611) scale(0.9670,1)" font-size="24.7" font-weight="bold" letter-spacing="0.195">A<tspan dx="-3.46">ge &gt;=18 years</tspan></text>
<text transform="translate(1749.2,564.5) scale(0.9670,1)" font-size="25.5" font-weight="bold" letter-spacing="0.143">A<tspan dx="-3.57">ge &lt;18 years</tspan></text>
<text transform="translate(1749.2,605.5) scale(0.9670,1)" font-size="25.5" font-weight="bold" letter-spacing="0.069">A<tspan dx="-3.57">ge &gt;=18 years</tspan></text>
<text transform="translate(765.4,1289.5) scale(0.9670,1)" font-size="26.2" font-weight="bold" letter-spacing="0.063">A<tspan dx="-3.67">ge &lt;18 years</tspan></text>
<text transform="translate(765.4,1331.3) scale(0.9662,1)" font-size="26.2" font-weight="bold">A<tspan dx="-3.67">ge &gt;=18 years</tspan></text>
<text transform="translate(354.9,107.4) scale(0.9062,1)" font-size="40.0" font-weight="bold">*</text>
<text transform="translate(1327.5,27.6) scale(0.9250,1)" font-size="40.0" font-weight="bold">*</text>
<text transform="translate(1401.2,89) scale(0.9312,1)" font-size="40.0" font-weight="bold">*</text>
<text transform="translate(464.8,397.3) scale(1.0000,1)" font-size="25.5">*</text>
<text transform="translate(206.6,872.1) scale(0.9273,1)" font-size="28.0" font-weight="bold">*</text>
<text transform="translate(45.83,98.7) scale(0.921,1)" font-size="22.1" stroke="#000" stroke-width="0.35">48</text>
<text transform="translate(45.83,157.63) scale(0.921,1)" font-size="22.1" stroke="#000" stroke-width="0.35">46</text>
<text transform="translate(45.83,215.66) scale(0.921,1)" font-size="22.1" stroke="#000" stroke-width="0.35">44</text>
<text transform="translate(45.83,273.69) scale(0.921,1)" font-size="22.1" stroke="#000" stroke-width="0.35">42</text>
<text transform="translate(45.83,331.72) scale(0.921,1)" font-size="22.1" stroke="#000" stroke-width="0.35">40</text>
<text transform="translate(45.83,389.75) scale(0.921,1)" font-size="22.1" stroke="#000" stroke-width="0.35">38</text>
<text transform="translate(45.83,447.78) scale(0.921,1)" font-size="22.1" stroke="#000" stroke-width="0.35">36</text>
<text transform="translate(45.83,505.81) scale(0.921,1)" font-size="22.1" stroke="#000" stroke-width="0.35">34</text>
<text transform="translate(45.83,563.84) scale(0.921,1)" font-size="22.1" stroke="#000" stroke-width="0.35">32</text>
<text transform="translate(45.83,621.87) scale(0.921,1)" font-size="22.1" stroke="#000" stroke-width="0.35">30</text>
<text transform="translate(1027.12,99.9) scale(0.835,1)" font-size="23.4" stroke="#000" stroke-width="0.35">56</text>
<text transform="translate(1026.28,142.88) scale(0.835,1)" font-size="23.4" stroke="#000" stroke-width="0.35">54</text>
<text transform="translate(1027.12,185.85) scale(0.835,1)" font-size="23.4" stroke="#000" stroke-width="0.35">52</text>
<text transform="translate(1026.28,228.82) scale(0.835,1)" font-size="23.4" stroke="#000" stroke-width="0.35">50</text>
<text transform="translate(1027.12,271.8) scale(0.835,1)" font-size="23.4" stroke="#000" stroke-width="0.35">48</text>
<text transform="translate(1027.12,314.77) scale(0.835,1)" font-size="23.4" stroke="#000" stroke-width="0.35">46</text>
<text transform="translate(1026.28,357.75) scale(0.835,1)" font-size="23.4" stroke="#000" stroke-width="0.35">44</text>
<text transform="translate(1027.12,400.72) scale(0.835,1)" font-size="23.4" stroke="#000" stroke-width="0.35">42</text>
<text transform="translate(1026.28,443.7) scale(0.835,1)" font-size="23.4" stroke="#000" stroke-width="0.35">40</text>
<text transform="translate(1027.12,486.68) scale(0.835,1)" font-size="23.4" stroke="#000" stroke-width="0.35">38</text>
<text transform="translate(1027.12,529.65) scale(0.835,1)" font-size="23.4" stroke="#000" stroke-width="0.35">36</text>
<text transform="translate(1026.28,572.63) scale(0.835,1)" font-size="23.4" stroke="#000" stroke-width="0.35">34</text>
<text transform="translate(1027.12,615.6) scale(0.835,1)" font-size="23.4" stroke="#000" stroke-width="0.35">32</text>
<text transform="translate(48.26,833.7) scale(0.975,1)" font-size="20.5" stroke="#000" stroke-width="0.35">52</text>
<text transform="translate(48.26,877.01) scale(0.975,1)" font-size="20.5" stroke="#000" stroke-width="0.35">50</text>
<text transform="translate(48.26,920.32) scale(0.975,1)" font-size="20.5" stroke="#000" stroke-width="0.35">48</text>
<text transform="translate(48.26,963.63) scale(0.975,1)" font-size="20.5" stroke="#000" stroke-width="0.35">46</text>
<text transform="translate(48.26,1006.94) scale(0.975,1)" font-size="20.5" stroke="#000" stroke-width="0.35">44</text>
<text transform="translate(48.26,1050.25) scale(0.975,1)" font-size="20.5" stroke="#000" stroke-width="0.35">42</text>
<text transform="translate(48.26,1093.56) scale(0.975,1)" font-size="20.5" stroke="#000" stroke-width="0.35">40</text>
<text transform="translate(48.26,1136.87) scale(0.975,1)" font-size="20.5" stroke="#000" stroke-width="0.35">38</text>
<text transform="translate(48.26,1180.18) scale(0.975,1)" font-size="20.5" stroke="#000" stroke-width="0.35">36</text>
<text transform="translate(48.26,1223.49) scale(0.975,1)" font-size="20.5" stroke="#000" stroke-width="0.35">34</text>
<text transform="translate(48.26,1266.8) scale(0.975,1)" font-size="20.5" stroke="#000" stroke-width="0.35">32</text>
<text transform="translate(48.26,1310.11) scale(0.975,1)" font-size="20.5" stroke="#000" stroke-width="0.35">30</text>
<text transform="translate(48.26,1353.42) scale(0.975,1)" font-size="20.5" stroke="#000" stroke-width="0.35">28</text>
</svg>
</body>
</html>
